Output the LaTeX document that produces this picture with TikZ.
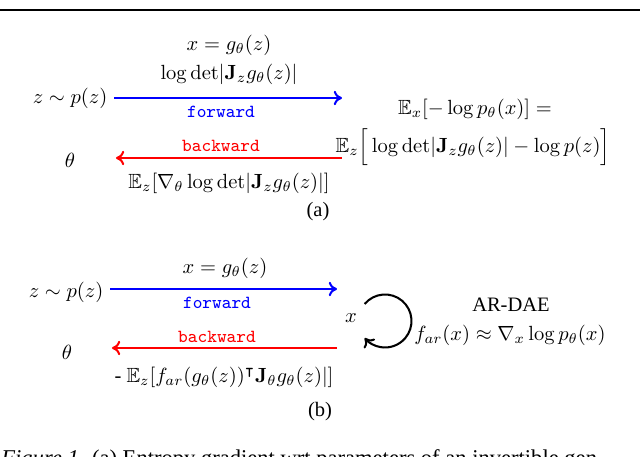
\documentclass[tikz,border=0pt]{standalone}
\usepackage{amsmath,amssymb}
\usepackage[no-math]{fontspec}
\setmainfont{Liberation Serif}
\usetikzlibrary{arrows.meta,positioning}
\definecolor{FlowBlue}{HTML}{0000FF}
\definecolor{FlowRed}{HTML}{FF0000}

\tikzset{
  lbl/.style={inner sep=1pt},
  fwdarrow/.style={draw=FlowBlue, line width=1pt, -{To[length=4pt,width=7pt]}},
  bwdarrow/.style={draw=FlowRed, line width=1pt, -{To[length=4pt,width=7pt]}},
  fwdtext/.style={lbl, text=FlowBlue, font=\fontsize{9}{10}\selectfont\ttfamily},
  bwdtext/.style={lbl, text=FlowRed, font=\fontsize{9}{10}\selectfont\ttfamily}
}

\begin{document}
\begin{tikzpicture}[x=0.01714cm,y=0.01714cm]
  \useasboundingbox (0,0) rectangle (640,457);

  % page header rule and caption (cut by the crop)
  \draw[line width=1.1pt] (0,447) -- (640,447);
  \node[anchor=base west, inner sep=0, font=\fontsize{11}{13}\selectfont] (caption) at (1,-9)
    {\textit{Figure 1.} (a) Entropy gradient wrt parameters of an invertible gen-};

  % (a) entropy of an invertible generator
  \node[lbl] (xga)    at (229,412) {$x = g_\theta(z)$};
  \node[lbl] (ldeta)  at (229,383) {$\log{\det}|\mathbf{J}_z g_\theta(z)|$};
  \node (zpa)         at (70,359)  {$z \sim p(z)$};
  \node (thetaa)      at (70,297)  {$\theta$};
  \coordinate (fwdaend) at (342,359);
  \coordinate (bwdastart) at (342,299);
  \coordinate (bwdaend) at (116,299);
  \draw[fwdarrow] (zpa.east) -- (fwdaend);
  \draw[bwdarrow] (bwdastart) -- (bwdaend);
  \node[fwdtext] (fwda) at (221,345) {forward};
  \node[bwdtext] (bwda) at (221,311) {backward};
  \node[lbl] (grada)  at (229,274)
    {$\mathbb{E}_z[\nabla_\theta \log{\det}|\mathbf{J}_z g_\theta(z)|]$};
  \node[lbl] (entx)   at (475,348) {$\mathbb{E}_x[-\log p_\theta(x)] =$};
  \node[lbl] (entz)   at (473,310)
    {$\mathbb{E}_z\Big[\log{\det}|\mathbf{J}_z g_\theta(z)| - \log p(z)\Big]$};
  \node[lbl] (capa)   at (318,245) {(a)};

  % (b) with AR-DAE
  \node[lbl] (xgb)    at (225,189) {$x = g_\theta(z)$};
  \node (zpb)         at (66,165)  {$z \sim p(z)$};
  \node (thetab)      at (67,105)  {$\theta$};
  \node[lbl] (xb)     at (351,139) {$x$};
  \coordinate (fwdbend) at (337,168);
  \coordinate (bwdbstart) at (337,109);
  \coordinate (bwdbend) at (112,109);
  \draw[fwdarrow] (zpb.east |- fwdbend) -- (fwdbend);
  \draw[bwdarrow] (bwdbstart) -- (bwdbend);
  \node[fwdtext] (fwdb) at (217,154) {forward};
  \node[bwdtext] (bwdb) at (217,120) {backward};
  \node[lbl] (gradb)  at (224,80)
    {- $\mathbb{E}_z[f_{ar}(g_\theta(z))^\intercal\mathbf{J}_\theta g_\theta(z)|]$};
  \coordinate (loopc) at (385,136);
  \draw[line width=1pt, -{To[length=4pt,width=7pt]}]
    ([shift={(140:26.5)}]loopc) arc[start angle=140, end angle=-140, radius=26.5];
  \node[lbl] (ardae)  at (511,152) {AR-DAE};
  \node[lbl] (score)  at (510,122) {$f_{ar}(x) \approx \nabla_x \log p_\theta(x)$};
  \node[lbl] (capb)   at (320,45)  {(b)};
\end{tikzpicture}
\end{document}
